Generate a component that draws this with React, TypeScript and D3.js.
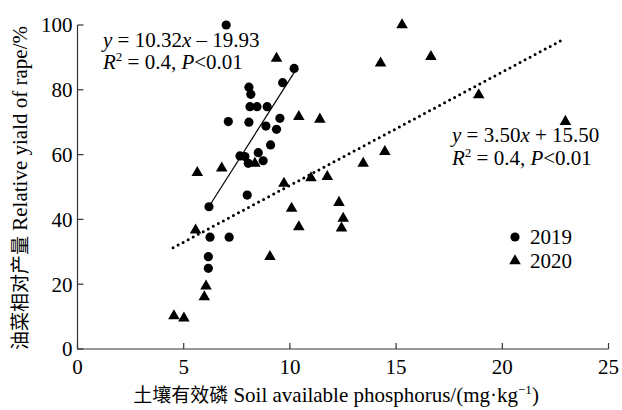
import React from 'react'
import * as d3 from 'd3'

const width = 622;
const height = 410;
const margin = {top: 25, right: 13.5, bottom: 61, left: 77.5};

// 2019 samples (circles)
const x2019 = [7.0, 10.2, 9.66, 8.07, 8.16, 8.12, 8.45, 8.93, 7.1, 8.07, 9.53, 8.87, 9.37, 9.09,
    7.65, 7.88, 8.51, 8.04, 8.74, 7.99, 6.19, 6.24, 7.14, 6.16, 6.16];
const y2019 = [100, 86.6, 82.2, 80.8, 78.6, 74.8, 74.8, 74.8, 70.2, 70.0, 71.2, 68.8, 67.8, 63.0,
    59.6, 59.4, 60.6, 57.3, 58.1, 47.5, 43.9, 34.5, 34.5, 28.5, 24.9];

// 2020 samples (triangles)
const x2020 = [15.28, 16.64, 14.27, 9.37, 18.89, 22.97, 10.42, 11.41, 14.47, 13.45, 5.64, 6.79, 8.35,
    9.72, 10.99, 11.76, 12.31, 10.08, 10.42, 12.51, 12.43, 9.06, 5.56, 6.05, 5.97, 4.54, 5.01];
const y2020 = [100, 90.2, 88.2, 89.7, 78.4, 70.2, 71.7, 70.9, 60.9, 57.3, 54.4, 55.8, 57.3,
    51.1, 52.8, 53.2, 45.2, 43.4, 37.7, 40.3, 37.3, 28.5, 36.7, 19.4, 16.1, 10.2, 9.5];

// fitted lines: slope, intercept, x range
const fit2019 = {a: 10.32, b: -19.93, from: 6.2, to: 10.25};
const fit2020 = {a: 3.50, b: 15.50, from: 4.5, to: 22.9};

const xTicks = [0, 5, 10, 15, 20, 25];
const yTicks = [0, 20, 40, 60, 80, 100];
const legendLabels = ['2019', '2020'];

const txt = {fontFamily: 'Liberation Serif', fontSize: 21};
const cjk = {fontFamily: 'Noto Sans CJK SC', fontSize: 19};

export default function App() {
    const x = d3.scaleLinear().domain([0, 25]).range([margin.left, width - margin.right]);
    const y = d3.scaleLinear().domain([0, 100]).range([height - margin.bottom, margin.top]);

    const fitLine = (f: typeof fit2019) =>
        d3.line<number>().x(d => x(d)).y(d => y(f.a * d + f.b))([f.from, f.to]) || '';

    const tri = d3.symbol(d3.symbolTriangle, 58)() || '';

    const x0 = x(0), y0 = y(0);

    return (
        <svg width={width} height={height} style={{position: 'absolute', left: 0, top: 0}}>
            <rect width={width} height={height} fill="#fff"/>

            {/* axes */}
            <g stroke="#333" strokeWidth={1.2} fill="none">
                <path d={`M${x0},${y(100)}V${y0}H${x(25)}`}/>
                {xTicks.map(t => <line key={t} x1={x(t)} x2={x(t)} y1={y0} y2={y0 - 6}/>)}
                {yTicks.map(t => <line key={t} x1={x0} x2={x0 + 6} y1={y(t)} y2={y(t)}/>)}
            </g>
            {xTicks.map(t => (
                <text key={t} style={txt} x={x(t)} y={y0 + 25} textAnchor="middle">{t}</text>
            ))}
            {yTicks.map(t => (
                <text key={t} style={txt} x={x0 - 5} y={y(t)} dy="0.35em" textAnchor="end">{t}</text>
            ))}

            {/* axis titles */}
            <text style={txt} x={336} y={402} textAnchor="middle">
                <tspan style={cjk}>土壤有效磷</tspan> Soil available phosphorus/(mg·kg
                <tspan dy={-8} fontSize={13}>−1</tspan>
                <tspan dy={8}>)</tspan>
            </text>
            <text style={txt} transform={`translate(27,${188}) rotate(-90)`} textAnchor="middle">
                <tspan style={cjk}>油菜相对产量</tspan> Relative yiald of rape/%
            </text>

            {/* fitted lines */}
            <path d={fitLine(fit2019)} stroke="#000" strokeWidth={1.2} fill="none"/>
            <path d={fitLine(fit2020)} stroke="#000" strokeWidth={3} fill="none"
                  strokeDasharray="0 5.7" strokeLinecap="round"/>

            {/* points */}
            <g fill="#000">
                {x2019.map((v, i) => <circle key={i} cx={x(v)} cy={y(y2019[i])} r={4.6}/>)}
                {x2020.map((v, i) => (
                    <path key={i} d={tri} transform={`translate(${x(v)},${y(y2020[i])})`}/>
                ))}
            </g>

            {/* equations */}
            <text style={txt} x={103} y={47}>
                <tspan fontStyle="italic">y</tspan> = 10.32<tspan fontStyle="italic">x</tspan> – 19.93
            </text>
            <text style={txt} x={103} y={69}>
                <tspan fontStyle="italic">R</tspan>
                <tspan dy={-8} fontSize={13}>2</tspan>
                <tspan dy={8}> = 0.4, </tspan>
                <tspan fontStyle="italic">P</tspan>&lt;0.01
            </text>
            <text style={txt} x={452} y={142}>
                <tspan fontStyle="italic">y</tspan> = 3.50<tspan fontStyle="italic">x</tspan> + 15.50
            </text>
            <text style={txt} x={452} y={165}>
                <tspan fontStyle="italic">R</tspan>
                <tspan dy={-8} fontSize={13}>2</tspan>
                <tspan dy={8}> = 0.4, </tspan>
                <tspan fontStyle="italic">P</tspan>&lt;0.01
            </text>

            {/* legend */}
            <g>
                <circle cx={515} cy={237} r={4.6}/>
                <text style={txt} x={530} y={244}>{legendLabels[0]}</text>
                <path d={tri} transform="translate(515,261)"/>
                <text style={txt} x={530} y={268}>{legendLabels[1]}</text>
            </g>
        </svg>
    );
}
